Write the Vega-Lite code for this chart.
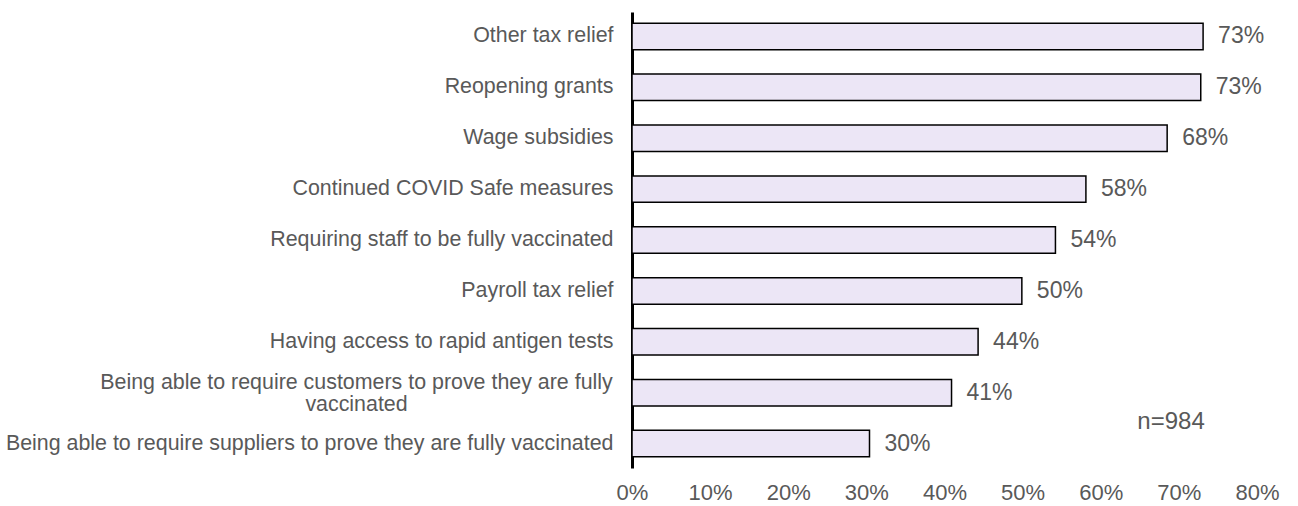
{
  "$schema": "https://vega.github.io/schema/vega-lite/v6.json",
  "width": 625,
  "height": 456,
  "autosize": {"type": "none"},
  "padding": {"left": 632, "top": 12, "right": 41, "bottom": 38},
  "config": {"view": {"stroke": null}, "font": "Liberation Sans"},
  "data": {
    "values": [
      {"item": "Other tax relief", "value": 0.731, "label": "73%"},
      {"item": "Reopening grants", "value": 0.728, "label": "73%"},
      {"item": "Wage subsidies", "value": 0.685, "label": "68%"},
      {"item": "Continued COVID Safe measures", "value": 0.581, "label": "58%"},
      {"item": "Requiring staff to be fully vaccinated", "value": 0.542, "label": "54%"},
      {"item": "Payroll tax relief", "value": 0.499, "label": "50%"},
      {"item": "Having access to rapid antigen tests", "value": 0.443, "label": "44%"},
      {"item": "Being able to require customers to prove they are fully vaccinated", "value": 0.409, "label": "41%"},
      {"item": "Being able to require suppliers to prove they are fully vaccinated", "value": 0.304, "label": "30%"}
    ]
  },
  "layer": [
    {
      "mark": {"type": "bar", "fill": "#ECE6F6", "stroke": "#000000", "strokeWidth": 1.5},
      "encoding": {
        "y": {
          "field": "item", "type": "nominal", "sort": null,
          "scale": {"paddingInner": 0.48, "paddingOuter": 0.22},
          "axis": {
            "title": null, "domainColor": "#000000", "domainWidth": 3, "ticks": false,
            "labelFontSize": 21.4, "labelColor": "#595959", "labelLimit": 700,
            "labelLineHeight": 22,
            "labelPadding": {"condition": {"test": "datum.value == 'Being able to require customers to prove they are fully vaccinated'", "value": 276}, "value": 19},
            "labelAlign": {"condition": {"test": "datum.value == 'Being able to require customers to prove they are fully vaccinated'", "value": "center"}, "value": "right"},
            "labelOffset": {"condition": {"test": "datum.value == 'Being able to require customers to prove they are fully vaccinated'", "value": -10}, "value": 0},
            "labelExpr": "datum.value == 'Being able to require customers to prove they are fully vaccinated' ? ['Being able to require customers to prove they are fully', 'vaccinated'] : datum.value"
          }
        },
        "x": {
          "field": "value", "type": "quantitative",
          "scale": {"domain": [0, 0.8]},
          "axis": {
            "title": null, "format": ".0%", "values": [0, 0.1, 0.2, 0.3, 0.4, 0.5, 0.6, 0.7, 0.8],
            "grid": false, "domain": false, "ticks": false, "labelFlush": false, "labelOverlap": false,
            "labelFontSize": 22, "labelColor": "#595959", "labelPadding": 14
          }
        }
      }
    },
    {
      "mark": {"type": "text", "align": "left", "baseline": "middle", "dx": 15, "fontSize": 23, "color": "#595959"},
      "encoding": {
        "y": {"field": "item", "type": "nominal", "sort": null},
        "x": {"field": "value", "type": "quantitative"},
        "text": {"field": "label"}
      }
    },
    {
      "data": {"values": [{"item": "Being able to require suppliers to prove they are fully vaccinated", "value": 0.69, "label": "n=984"}]},
      "mark": {"type": "text", "align": "center", "baseline": "middle", "dy": -22, "fontSize": 24, "color": "#595959"},
      "encoding": {
        "y": {"field": "item", "type": "nominal", "sort": null},
        "x": {"field": "value", "type": "quantitative"},
        "text": {"field": "label"}
      }
    }
  ]
}
